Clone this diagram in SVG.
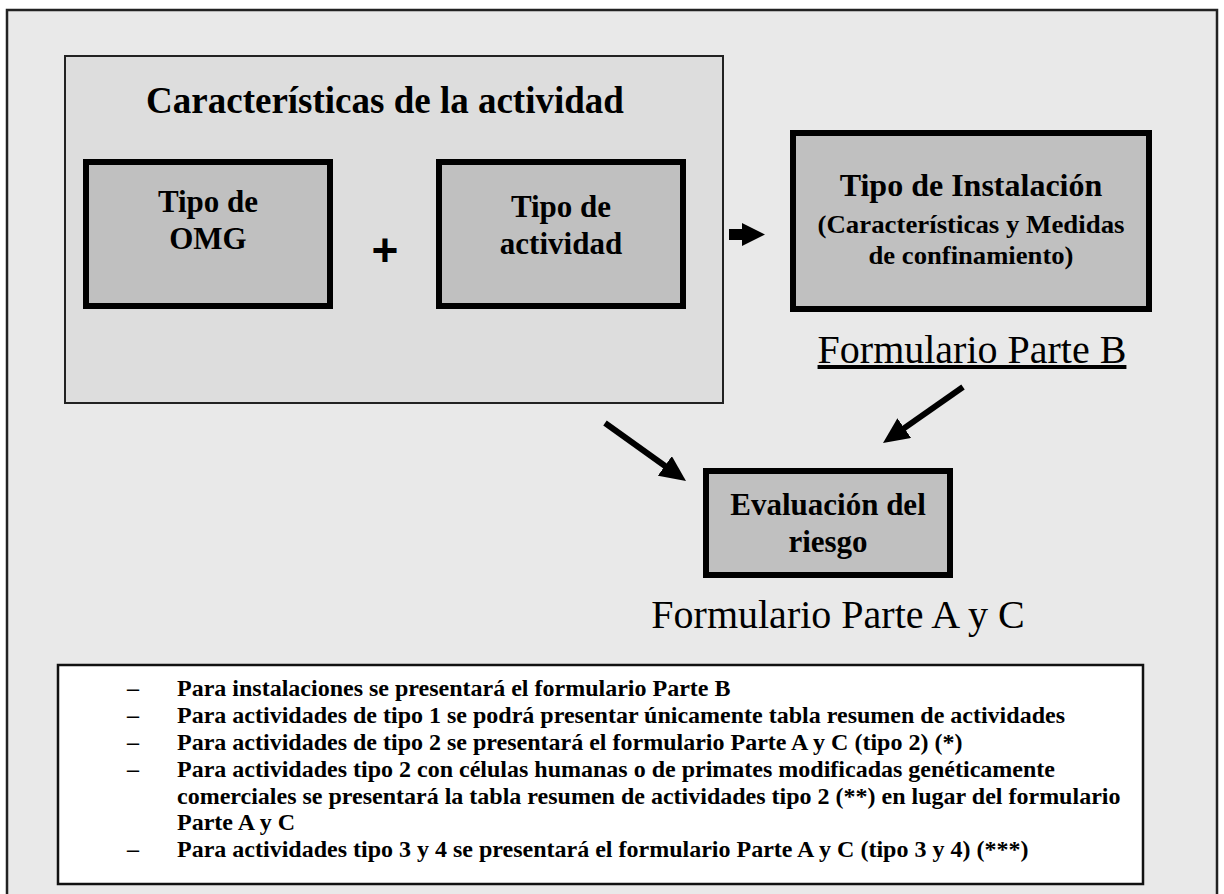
<svg xmlns="http://www.w3.org/2000/svg" width="1224" height="894" viewBox="0 0 1224 894">
<defs>
<style>
.bold{font-family:"Liberation Serif","Times New Roman",serif;font-weight:bold;fill:#000}
.reg{font-family:"Liberation Serif","Times New Roman",serif;font-weight:normal;fill:#000}
.box{fill:#c0c0c0;stroke:#000;stroke-width:6}
.conn{stroke:#000;stroke-width:6;fill:none}
.note{font-family:"Liberation Serif","Times New Roman",serif;font-weight:bold;font-size:24px;fill:#000}
</style>
<marker id="head" markerUnits="userSpaceOnUse" viewBox="0 0 26 24" refX="11" refY="12" markerWidth="26" markerHeight="24" orient="auto">
<path d="M0,0 L26,12 L0,24 z" fill="#000"/>
</marker>
</defs>
<rect x="0" y="0" width="1224" height="894" fill="#ffffff"/>
<rect id="frame" x="7" y="10" width="1210" height="900" fill="#e9e9e9" stroke="#222" stroke-width="2.5"/>

<g id="caracteristicas">
<rect x="65" y="56" width="658" height="347" fill="#dddddd" stroke="#222" stroke-width="2"/>
<text class="bold" x="385" y="113" font-size="37" text-anchor="middle">Características de la actividad</text>
</g>

<g id="tipo-omg">
<rect class="box" x="86" y="162" width="244" height="144"/>
<text class="bold" x="208" y="212" font-size="31" text-anchor="middle">Tipo de</text>
<text class="bold" x="208" y="249" font-size="31" text-anchor="middle">OMG</text>
</g>

<g id="plus">
<text x="385" y="266" font-family="Liberation Sans, Arial, sans-serif" font-weight="bold" font-size="46" text-anchor="middle" fill="#000">+</text>
</g>

<g id="tipo-actividad">
<rect class="box" x="439" y="162" width="244" height="144"/>
<text class="bold" x="561" y="217" font-size="31" text-anchor="middle">Tipo de</text>
<text class="bold" x="561" y="254" font-size="31" text-anchor="middle">actividad</text>
</g>

<g id="instalacion">
<rect class="box" x="793" y="133" width="356" height="176"/>
<text class="bold" x="971" y="196" font-size="32" text-anchor="middle">Tipo de Instalación</text>
<text class="bold" x="971" y="233" font-size="25" text-anchor="middle" textLength="307" lengthAdjust="spacingAndGlyphs">(Características y Medidas</text>
<text class="bold" x="971" y="264" font-size="25" text-anchor="middle" textLength="205" lengthAdjust="spacingAndGlyphs">de confinamiento)</text>
</g>

<g id="label-parte-b">
<text class="reg" x="972" y="363" font-size="40" text-anchor="middle" text-decoration="underline">Formulario Parte B</text>
</g>

<g id="evaluacion">
<rect class="box" x="706" y="471" width="244" height="104"/>
<text class="bold" x="828" y="515" font-size="31" text-anchor="middle">Evaluación del</text>
<text class="bold" x="828" y="552" font-size="31" text-anchor="middle">riesgo</text>
</g>

<g id="label-parte-ac">
<text class="reg" x="838" y="628" font-size="40" text-anchor="middle">Formulario Parte A y C</text>
</g>

<g id="connectors">
<polygon points="729,229 742,229 742,223 765,234.5 742,246 742,240 729,240" fill="#000"/>
<line class="conn" x1="605" y1="423" x2="673.8" y2="472.3" marker-end="url(#head)"/>
<line class="conn" x1="963" y1="387" x2="895.3" y2="434.4" marker-end="url(#head)"/>
</g>

<g id="notas">
<rect x="58" y="665" width="1085" height="219" fill="#ffffff" stroke="#111" stroke-width="2.5"/>
<text class="note" x="127" y="696">–</text>
<text class="note" x="177" y="696">Para instalaciones se presentará el formulario Parte B</text>
<text class="note" x="127" y="723">–</text>
<text class="note" x="177" y="723">Para actividades de tipo 1 se podrá presentar únicamente tabla resumen de actividades</text>
<text class="note" x="127" y="750">–</text>
<text class="note" x="177" y="750">Para actividades de tipo 2 se presentará el formulario Parte A y C (tipo 2) (*)</text>
<text class="note" x="127" y="777">–</text>
<text class="note" x="177" y="777">Para actividades tipo 2 con células humanas o de primates modificadas genéticamente</text>
<text class="note" x="177" y="804">comerciales se presentará la tabla resumen de actividades tipo 2 (**) en lugar del formulario</text>
<text class="note" x="177" y="830">Parte A y C</text>
<text class="note" x="127" y="857">–</text>
<text class="note" x="177" y="857">Para actividades tipo 3 y 4 se presentará el formulario Parte A y C (tipo 3 y 4) (***)</text>
</g>
</svg>
